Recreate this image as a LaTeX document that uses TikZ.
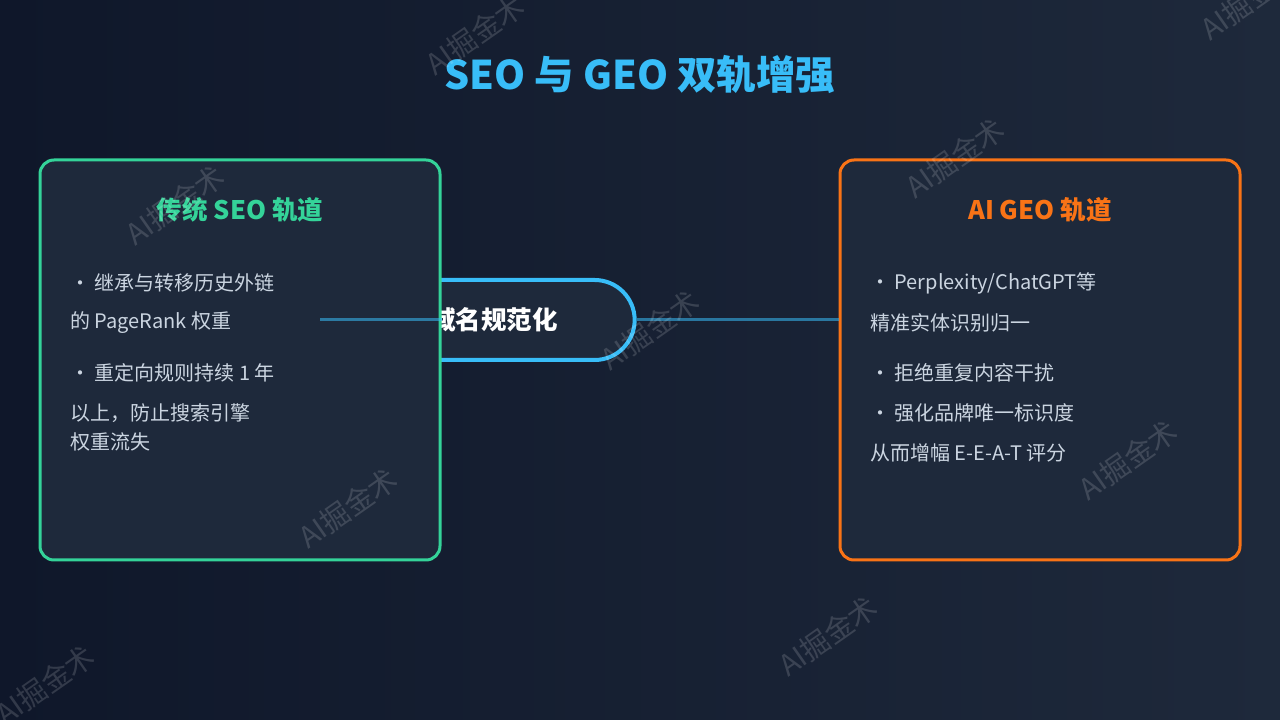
\documentclass[tikz,border=0pt]{standalone}
\usepackage{fontspec}
\setmainfont{Noto Sans CJK SC}
\usepackage{tikz}
\usetikzlibrary{shapes.misc, positioning}

\definecolor{bgdark}{HTML}{0F172A}
\definecolor{bglight}{HTML}{1E293B}
\definecolor{panel}{HTML}{1E293B}
\definecolor{skyblue}{HTML}{38BDF8}
\definecolor{seogreen}{HTML}{34D399}
\definecolor{geoorange}{HTML}{F97316}
\definecolor{bodygray}{HTML}{CBD5E1}

\begin{document}
\begin{tikzpicture}[
                x=1pt, y=1pt,
                track/.style={rectangle, draw, line width=3pt, rounded corners=14pt, fill=panel, minimum width=400pt, minimum height=400pt},
                tracktitle/.style={font=\fontsize{25.5}{30}\selectfont\bfseries},
                item/.style={anchor=west, inner sep=0pt, text=bodygray, font=\fontsize{20}{24}\selectfont},
                gate/.style={rounded rectangle, draw=skyblue, line width=4pt, fill=panel, minimum width=288pt, minimum height=80pt, text=white, font=\fontsize{25.5}{30}\selectfont\bfseries},
                link/.style={skyblue, opacity=0.55, line width=3pt},
                wmark/.style={text=white, opacity=0.15, rotate=35, font=\fontsize{29}{33}\selectfont}
            ]
            \useasboundingbox (0,0) rectangle (1280,720);
            \fill[left color=bgdark, right color=bglight] (0,0) rectangle (1280,720);

            \node (title) [text=skyblue, font=\fontsize{39.5}{46}\selectfont\bfseries] at (640,645) {SEO 与 GEO 双轨增强};

            % the pill sits behind the left track
            \node (gate) [gate] at (494,400) {域名规范化};
            \node (seo) [track, draw=seogreen] at (240,360) {};
            \node (geo) [track, draw=geoorange] at (1040,360) {};

            \node (seohead) [tracktitle, text=seogreen] at (240,510) {传统 SEO 轨道};
            \node (geohead) [tracktitle, text=geoorange] at (1040,510) {AI GEO 轨道};

            \node (seo1) [item] at (70,437) {・ 继承与转移历史外链};
            \node (seo2) [item] at (70,397) {的 PageRank 权重};
            \node (seo3) [item] at (70,347) {・ 重定向规则持续 1 年};
            \node (seo4) [item] at (70,307) {以上，防止搜索引擎};
            \node (seo5) [item] at (70,278) {权重流失};

            \node (geo1) [item] at (870,437) {・ Perplexity/ChatGPT等};
            \node (geo2) [item] at (870,397) {精准实体识别归一};
            \node (geo3) [item] at (870,347) {・ 拒绝重复内容干扰};
            \node (geo4) [item] at (870,307) {・ 强化品牌唯一标识度};
            \node (geo5) [item] at (870,267) {从而增幅 E-E-A-T 评分};

            \coordinate (seojoin) at (320,400);
            \draw [link] (seojoin) -- (seojoin -| seo.east);
            \draw [link] (gate.east) -- (gate.east -| geo.west);

            % watermarks
            \foreach \wx/\wy [count=\i] in {475/685, 1250/720, 175/515, 955/562, 650/390, 348/212, 1128/260, 45/35, 828/84}
                \node (wm\i) [wmark] at (\wx,\wy) {AI掘金术};
            \end{tikzpicture}
\end{document}
